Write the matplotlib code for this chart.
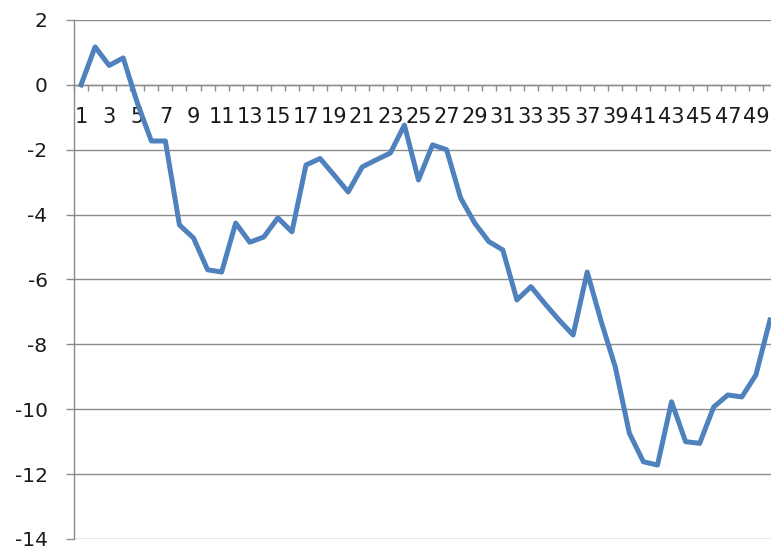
# Excel style line chart: random walk, 50 steps
import numpy as np
from matplotlib import pyplot as plt
from matplotlib.ticker import FixedLocator

plt.rcParams['axes.unicode_minus'] = False

steps = list(range(1, 51))
values = [0.0, 1.17, 0.6, 0.83, -0.55, -1.73, -1.73, -4.32, -4.72, -5.7,
          -5.77, -4.26, -4.85, -4.69, -4.1, -4.53, -2.47, -2.27, -2.78, -3.3,
          -2.53, -2.31, -2.1, -1.24, -2.93, -1.85, -2.0, -3.49, -4.26, -4.83,
          -5.09, -6.63, -6.22, -6.75, -7.25, -7.71, -5.77, -7.3, -8.7, -10.74,
          -11.62, -11.72, -9.77, -11.0, -11.05, -9.93, -9.56, -9.62, -8.94, -7.25]
y_ticks = [2, 0, -2, -4, -6, -8, -10, -12, -14]

grid_col = '#8c8c8c'
text_col = '#1a1a1a'

fig = plt.figure(figsize=(7.71, 5.49), dpi=100)
# plot area runs past the right edge of the picture, as in the screenshot
ax = fig.add_axes([74 / 771, 10 / 549, 703 / 771, 519 / 549])

ax.plot(steps, values, color='#4f81bd', linewidth=3.6, solid_joinstyle='round', zorder=3)

ax.set_xlim(0.5, 50.5)
ax.set_ylim(-14, 2)
ax.set_yticks(y_ticks)
ax.yaxis.grid(True, color=grid_col, linewidth=1.0)
ax.set_axisbelow(True)

for s in ['top', 'right']:
    ax.spines[s].set_visible(False)
ax.spines['left'].set_color(grid_col)
ax.spines['bottom'].set_color(grid_col)
ax.spines['bottom'].set_position(('data', 0))
ax.spines['left'].set_linewidth(1.0)
ax.spines['bottom'].set_linewidth(1.0)

# labels on odd categories, tick marks between categories
odd = steps[::2]
ax.xaxis.set_major_locator(FixedLocator(odd))
ax.set_xticklabels([str(s) for s in odd])
ax.xaxis.set_minor_locator(FixedLocator(np.arange(0.5, 51, 1)))
ax.tick_params(axis='x', which='major', length=0, pad=16, labelsize=15, labelcolor=text_col)
ax.tick_params(axis='x', which='minor', length=4.5, direction='out', color=grid_col, width=1.0)
ax.tick_params(axis='y', length=6, direction='out', color=grid_col, width=1.0,
               pad=13, labelsize=14.5, labelcolor=text_col)

plt.savefig('out.png', dpi=100)
